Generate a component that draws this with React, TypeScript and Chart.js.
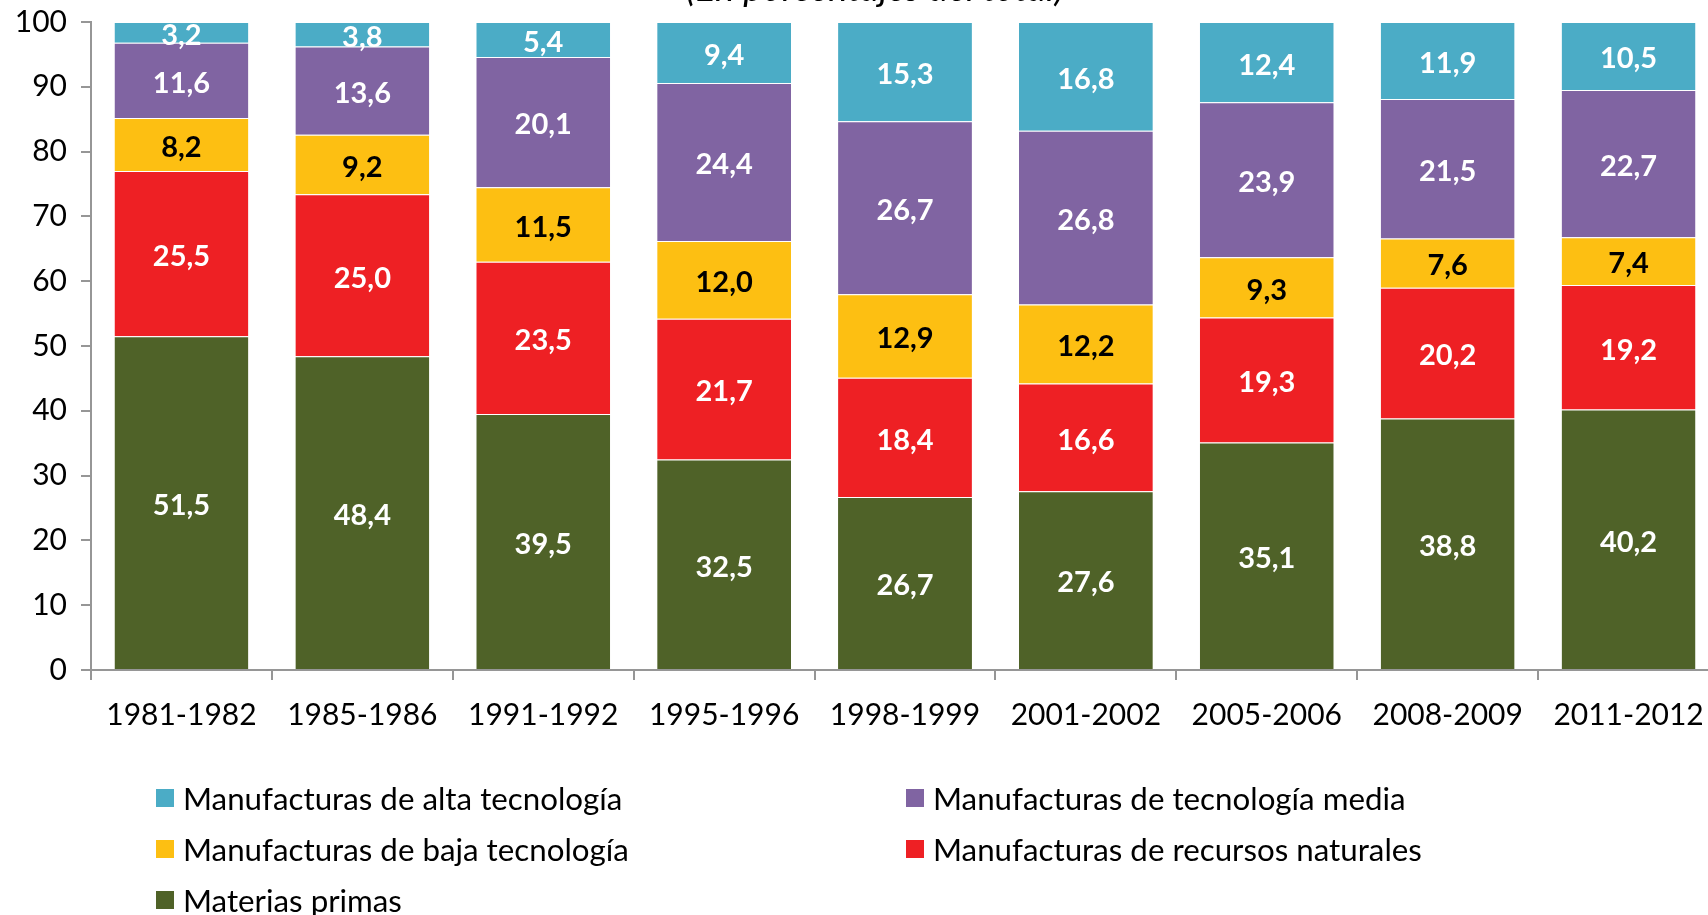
import React, { useEffect, useRef } from "react";
import { Chart, registerables } from "chart.js";

Chart.register(...registerables);

const categories = ["1981-1982", "1985-1986", "1991-1992", "1995-1996", "1998-1999", "2001-2002", "2005-2006", "2008-2009", "2011-2012"];
const materiasPrimas = [51.5, 48.4, 39.5, 32.5, 26.7, 27.6, 35.1, 38.8, 40.2];
const recursosNaturales = [25.5, 25.0, 23.5, 21.7, 18.4, 16.6, 19.3, 20.2, 19.2];
const bajaTecnologia = [8.2, 9.2, 11.5, 12.0, 12.9, 12.2, 9.3, 7.6, 7.4];
const mediaTecnologia = [11.6, 13.6, 20.1, 24.4, 26.7, 26.8, 23.9, 21.5, 22.7];
const altaTecnologia = [3.2, 3.8, 5.4, 9.4, 15.3, 16.8, 12.4, 11.9, 10.5];
const yTicks = [0, 10, 20, 30, 40, 50, 60, 70, 80, 90, 100];
const titleText = "(En porcentajes del total)";

const FONT = "Lato, 'Open Sans', sans-serif";

const series = [
  { label: "Materias primas", data: materiasPrimas, color: "#4F6228", text: "#ffffff" },
  { label: "Manufacturas de recursos naturales", data: recursosNaturales, color: "#EE2024", text: "#ffffff" },
  { label: "Manufacturas de baja tecnología", data: bajaTecnologia, color: "#FDBF12", text: "#000000" },
  { label: "Manufacturas de tecnología media", data: mediaTecnologia, color: "#8064A2", text: "#ffffff" },
  { label: "Manufacturas de alta tecnología", data: altaTecnologia, color: "#4BACC6", text: "#ffffff" },
];

// legend order (row-major, two columns)
const legendOrder = [
  "Manufacturas de alta tecnología",
  "Manufacturas de tecnología media",
  "Manufacturas de baja tecnología",
  "Manufacturas de recursos naturales",
  "Materias primas",
];

const valueLabels = {
  id: "valueLabels",
  afterDatasetsDraw(chart: any) {
    const ctx = chart.ctx;
    ctx.save();
    ctx.font = `bold 29px ${FONT}`;
    ctx.textAlign = "center";
    ctx.textBaseline = "middle";
    chart.data.datasets.forEach((ds: any, di: number) => {
      const meta = chart.getDatasetMeta(di);
      meta.data.forEach((el: any, i: number) => {
        const v = ds.data[i];
        const y = (el.y + el.base) / 2 + 3;
        ctx.fillStyle = series[di].text;
        ctx.fillText(v.toFixed(1).replace(".", ","), el.x, y);
      });
    });
    ctx.restore();
  },
};

export default function App() {
  const ref = useRef<HTMLCanvasElement>(null);
  useEffect(() => {
    const chart = new Chart(ref.current!, {
      type: "bar",
      data: {
        labels: categories,
        datasets: series.map((s) => ({
          label: s.label,
          data: s.data,
          backgroundColor: s.color,
          borderColor: "rgba(255,255,255,0.35)",
          borderWidth: { top: 1, bottom: 0, left: 0, right: 0 },
          borderSkipped: false,
          categoryPercentage: 1,
          barPercentage: 0.74,
        })),
      },
      options: {
        animation: false,
        responsive: false,
        maintainAspectRatio: false,
        layout: { padding: { top: 22, right: 1, left: 0, bottom: 0 } },
        plugins: { legend: { display: false }, tooltip: { enabled: false } },
        scales: {
          x: {
            stacked: true,
            offset: true,
            grid: { display: true, offset: true, drawOnChartArea: false, drawTicks: true, tickLength: 10, color: "#969696", lineWidth: 2 },
            border: { display: true, color: "#969696", width: 2 },
            ticks: { color: "#000", font: { family: FONT, size: 30 }, padding: 17, maxRotation: 0, autoSkip: false },
            afterFit: (s: any) => { s.height = 245; s.paddingLeft = 0; s.paddingRight = 0; },
          },
          y: {
            stacked: true,
            min: 0,
            max: 100,
            afterBuildTicks: (s: any) => { s.ticks = yTicks.map((v) => ({ value: v })); },
            grid: { display: true, drawOnChartArea: false, drawTicks: true, tickLength: 10, color: "#969696", lineWidth: 2 },
            border: { display: true, color: "#969696", width: 2 },
            ticks: { color: "#000", font: { family: FONT, size: 30 }, padding: 14 },
            afterFit: (s: any) => { s.width = 91; s.paddingTop = 0; s.paddingBottom = 0; },
          },
        },
      },
      plugins: [valueLabels],
    });
    return () => chart.destroy();
  }, []);

  const items = legendOrder.map((name) => series.find((s) => s.label === name)!);

  return (
    <div style={{ position: "fixed", left: 0, top: 0, width: 1708, height: 915, overflow: "hidden", background: "#fff" }}>
      <canvas ref={ref} width={1720} height={915} style={{ position: "absolute", left: 0, top: 0, width: 1720, height: 915 }} />
      <div style={{ position: "absolute", left: 575, width: 600, top: -32, textAlign: "center", fontFamily: FONT, fontStyle: "italic", fontSize: 37, lineHeight: "37px", whiteSpace: "nowrap", color: "#000" }}>
        {titleText}
      </div>
      {items.map((s, i) => {
        const col = i % 2;
        const row = Math.floor(i / 2);
        const left = col === 0 ? 156 : 906;
        const cy = 798 + row * 51;
        return (
          <div key={s.label} style={{ position: "absolute", left, top: cy - 20, height: 40, display: "flex", alignItems: "center", fontFamily: FONT, fontSize: 31.3, color: "#000", whiteSpace: "nowrap" }}>
            <span style={{ display: "inline-block", width: 18, height: 18, background: s.color, marginRight: 9 }} />
            <span>{s.label}</span>
          </div>
        );
      })}
    </div>
  );
}
